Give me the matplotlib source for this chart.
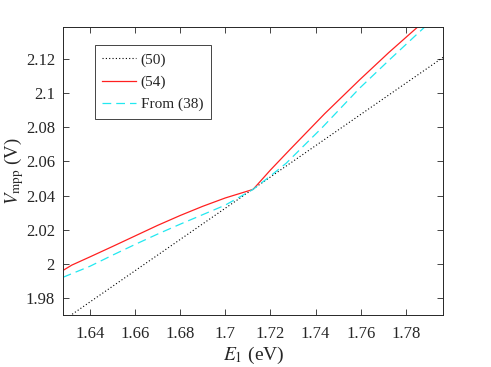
import numpy as np
import matplotlib
matplotlib.use('Agg')
import matplotlib.pyplot as plt

# (50): straight line
e_50 = [1.620, 1.800]
v_50 = [1.9592, 2.1243]

# (54)
e_54 = [1.628, 1.632, 1.640, 1.650, 1.660, 1.670, 1.680, 1.690, 1.700, 1.7123,
        1.7200, 1.7285, 1.7440, 1.7595, 1.7725, 1.7853, 1.7970]
v_54 = [1.9960, 1.9992, 2.0040, 2.0101, 2.0163, 2.0225, 2.0283, 2.0337, 2.0386, 2.0436,
        2.0550, 2.0668, 2.0880, 2.1079, 2.1240, 2.1390, 2.1525]

# From (38)
e_38 = [1.628, 1.640, 1.650, 1.660, 1.670, 1.680, 1.690, 1.700, 1.7064, 1.7123,
        1.7200, 1.7270, 1.7430, 1.7595, 1.7730, 1.7868, 1.7970]
v_38 = [1.9920, 1.9985, 2.0050, 2.0113, 2.0174, 2.0232, 2.0288, 2.0344, 2.0392, 2.0436,
        2.0515, 2.0590, 2.0800, 2.1030, 2.1200, 2.1370, 2.1495]

xticks = [1.64, 1.66, 1.68, 1.70, 1.72, 1.74, 1.76, 1.78]
xticklabels = ['1.64', '1.66', '1.68', '1.7', '1.72', '1.74', '1.76', '1.78']
yticks = [1.98, 2.00, 2.02, 2.04, 2.06, 2.08, 2.10, 2.12]
yticklabels = ['1.98', '2', '2.02', '2.04', '2.06', '2.08', '2.1', '2.12']

plt.rcParams['font.family'] = 'Liberation Serif'
plt.rcParams['mathtext.fontset'] = 'stix'

axcol = '#262626'

fig = plt.figure(figsize=(4.91, 3.67), dpi=100)
ax = fig.add_axes([63.3 / 491, 1 - 315 / 367, (443.3 - 63.3) / 491, (315 - 26.7) / 367])

ax.plot(e_50, v_50, color='black', linestyle=(0, (1, 2)), linewidth=0.8, label='(50)')
ax.plot(e_54, v_54, color='#ff2020', linestyle='-', linewidth=0.9, label='(54)')
ax.plot(e_38, v_38, color='#22e8f0', linestyle=(0, (7, 4)), linewidth=0.9, label='From (38)')

ax.set_xlim(1.6282, 1.7966)
ax.set_ylim(1.9699, 2.1391)
ax.set_xticks(xticks)
ax.set_xticklabels(xticklabels)
ax.set_yticks(yticks)
ax.set_yticklabels(yticklabels)

ax.tick_params(direction='in', top=True, right=True, length=4, width=0.6,
               colors=axcol, labelsize=12)
ax.tick_params(axis='x', pad=8)
ax.tick_params(axis='y', pad=6)
for s in ax.spines.values():
    s.set_color(axcol)
    s.set_linewidth(0.7)

ax.set_xlabel(r'$E_1$ (eV)', fontsize=14, color=axcol, labelpad=2)
ax.set_ylabel(r'$V_{\rm mpp}$ (V)', fontsize=13.5, color=axcol, labelpad=0)

leg = ax.legend(loc='upper left', bbox_to_anchor=(0.083, 0.935), fontsize=11,
                frameon=True, fancybox=False, edgecolor=axcol, framealpha=1,
                handlelength=2.2, handletextpad=0.3, borderpad=0.5,
                labelspacing=0.55, borderaxespad=0)
leg.get_frame().set_linewidth(0.6)
for t in leg.get_texts():
    t.set_color(axcol)

fig.savefig('out.png', dpi=100)
